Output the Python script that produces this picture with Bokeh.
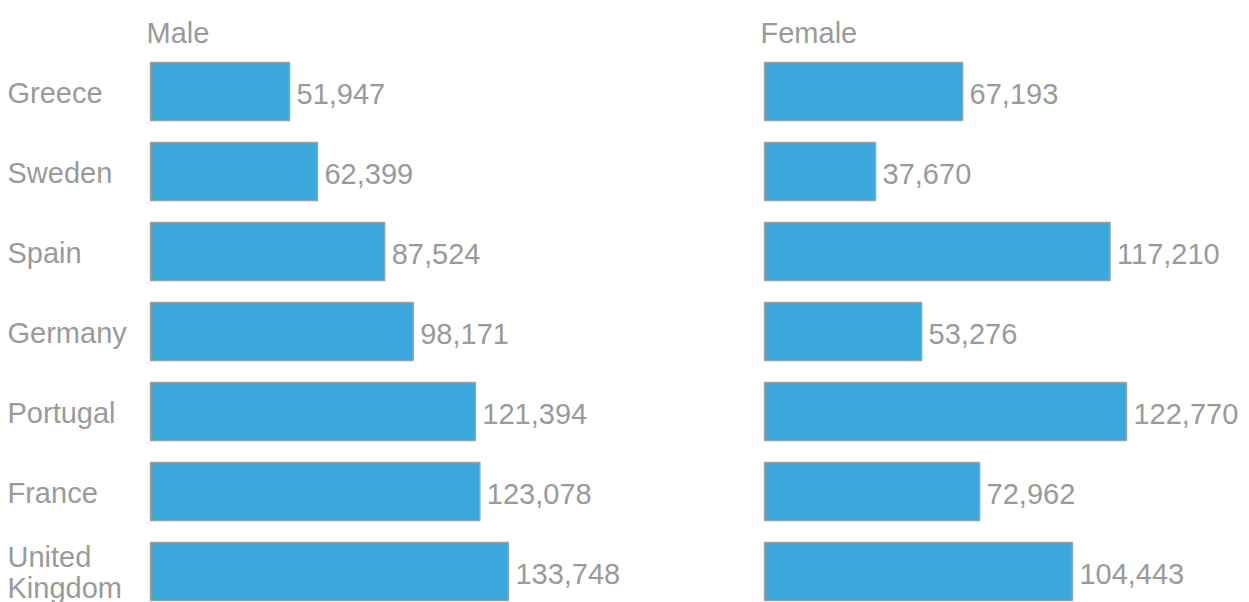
from bokeh.plotting import figure
from bokeh.models import Range1d, ColumnDataSource, Label
from bokeh.layouts import row
from bokeh.core.properties import value
from bokeh.embed import file_html
from bokeh.resources import INLINE

countries = ["Greece", "Sweden", "Spain", "Germany", "Portugal", "France", "United\nKingdom"]
male = [51947, 62399, 87524, 98171, 121394, 123078, 133748]
female = [67193, 37670, 117210, 53276, 122770, 72962, 104443]
panel_titles = ["Male", "Female"]

FONT = "Liberation Sans"
GRAY = "#9a9a9a"
BLUE = "#3aa8db"
FS = "29px"


def panel(title, vals, width, left_px, units_per_px, show_labels):
    H = 602
    top_px = 91
    xr = Range1d(-left_px * units_per_px, (width - left_px) * units_per_px)
    # rows spaced 80px
    yr = Range1d((H - top_px) / 80.0, -top_px / 80.0)
    p = figure(width=width, height=H, x_range=xr, y_range=yr,
               output_backend="svg", toolbar_location=None,
               x_axis_location=None, y_axis_location=None,
               min_border=0, min_border_left=0, min_border_right=0,
               min_border_top=0, min_border_bottom=0)
    p.outline_line_color = None
    p.xgrid.visible = False
    p.ygrid.visible = False
    p.background_fill_color = "white"
    p.border_fill_color = "white"

    src = ColumnDataSource(dict(
        y=list(range(len(countries))),
        cat=countries,
        v=vals,
        lab=[f"{v:,}" for v in vals],
        zero=[0] * len(vals),
    ))
    p.hbar(y="y", left="zero", right="v", height=0.725, source=src,
           fill_color=BLUE, line_color="#a0a0a0", line_width=1.5)
    p.text(x="v", y="y", text="lab", source=src, x_offset=7, y_offset=2,
           text_font=value(FONT), text_font_size=FS, text_color=GRAY,
           text_align="left", text_baseline="middle")
    if show_labels:
        p.text(x="zero", y="y", text="cat", source=src, x_offset=-(left_px - 7), y_offset=1,
               text_font=value(FONT), text_font_size=FS, text_color=GRAY,
               text_align="left", text_baseline="middle", text_line_height=0.95)
    p.add_layout(Label(x=left_px - 4, y=H - 32, x_units="screen", y_units="screen",
                       text=title, text_font=FONT, text_font_size=FS,
                       text_color=GRAY, text_align="left",
                       text_baseline="alphabetic"))
    return p


p1 = panel(panel_titles[0], male, 622, 150, 373.7, True)
p2 = panel(panel_titles[1], female, 627, 142, 339.2, False)
layout = row(p1, p2)

open("out.html", "w").write(file_html(layout, INLINE))
